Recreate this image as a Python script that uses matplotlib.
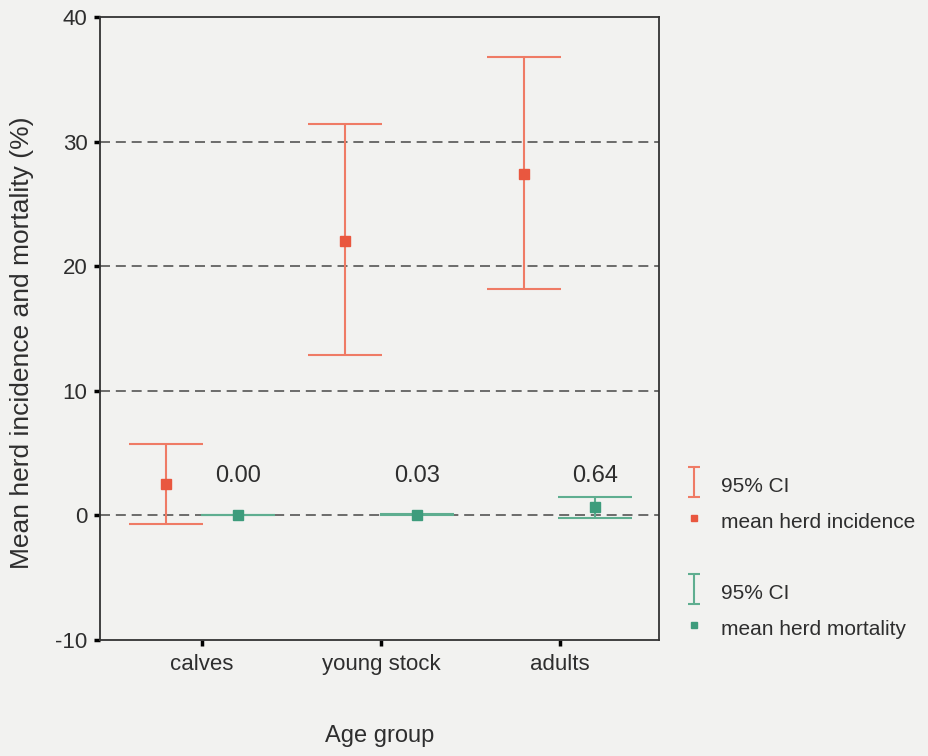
import matplotlib
matplotlib.use("Agg")
import matplotlib.pyplot as plt
from matplotlib.path import Path
from matplotlib.lines import Line2D
import numpy as np

plt.rcParams['font.family'] = ['Liberation Sans', 'DejaVu Sans']
plt.rcParams['axes.unicode_minus'] = False

categories = ["calves", "young stock", "adults"]
inc_mean = [2.5, 22.0, 27.4]
inc_low = [-0.7, 12.9, 18.2]
inc_high = [5.7, 31.4, 36.8]
mort_mean = [0.0, 0.03, 0.64]
mort_low = [0.0, 0.0, -0.2]
mort_high = [0.0, 0.1, 1.48]
mort_labels = ["0.00", "0.03", "0.64"]
yticks = [-10, 0, 10, 20, 30, 40]
grid_levels = [0, 10, 20, 30]

red = '#e9573f'
red_line = '#ef7b65'
green = '#3d9c7c'
green_line = '#5fae90'
bg = '#f2f2f0'
txt = '#2e2e2e'

fig = plt.figure(figsize=(9.29, 7.56), dpi=100, facecolor=bg)
ax = fig.add_axes([100/929, 1-640/756, 559/929, 623/756], facecolor=bg)

x = np.arange(1, len(categories) + 1)
off = 0.2
xi = x - off
xm = x + off

for g in grid_levels:
    ax.axhline(g, color='#555555', lw=1.2, ls=(0, (6, 3.5)), zorder=1)

inc_mean_a = np.array(inc_mean)
ax.errorbar(xi, inc_mean_a,
            yerr=[inc_mean_a - np.array(inc_low), np.array(inc_high) - inc_mean_a],
            fmt='none', ecolor=red_line, elinewidth=1.5, capsize=26.5, capthick=1.5,
            zorder=3)
ax.plot(xi, inc_mean, ls='none', marker='s', ms=6.5, color=red, zorder=4)

mort_mean_a = np.array(mort_mean)
ax.errorbar(xm, mort_mean_a,
            yerr=[mort_mean_a - np.array(mort_low), np.array(mort_high) - mort_mean_a],
            fmt='none', ecolor=green_line, elinewidth=1.5, capsize=26.5, capthick=1.5,
            zorder=3)
ax.plot(xm, mort_mean, ls='none', marker='s', ms=6.5, color=green, zorder=4)

for xv, lab in zip(xm, mort_labels):
    ax.text(xv, 3.16, lab, ha='center', va='center', fontsize=17, color=txt)

ax.set_xlim(0.43, 3.555)
ax.set_ylim(-10, 40)
ax.set_yticks(yticks)
ax.set_xticks(x)
ax.set_xticklabels(categories, fontsize=16, color=txt)
ax.tick_params(axis='y', labelsize=16, labelcolor=txt, length=4, width=2.5, direction='out', pad=5)
ax.tick_params(axis='x', length=4, width=2.5, direction='out', pad=6)
for s in ax.spines.values():
    s.set_color('#333333')
    s.set_linewidth(1.3)

ax.set_ylabel('Mean herd incidence and mortality (%)', fontsize=19, color=txt,
              ha='center', va='center')
ax.yaxis.set_label_coords(-0.14, 0.477)
ax.set_xlabel('Age group', fontsize=17, color=txt, va='center')
ax.xaxis.set_label_coords(0.5, -0.154)

# legend handles: "I" shaped marker for the CI
ibar = Path([(-0.4, -1), (0.4, -1), (0, -1), (0, 1), (-0.4, 1), (0.4, 1)],
            [Path.MOVETO, Path.LINETO, Path.MOVETO, Path.LINETO, Path.MOVETO, Path.LINETO])
h_ci_r = Line2D([], [], ls='none', marker=ibar, ms=22, mfc='none', mec=red_line, mew=1.5)
h_m_r = Line2D([], [], ls='none', marker='s', ms=5, color=red)
h_ci_g = Line2D([], [], ls='none', marker=ibar, ms=22, mfc='none', mec=green_line, mew=1.5)
h_m_g = Line2D([], [], ls='none', marker='s', ms=5, color=green)

common = dict(loc='center left', frameon=False, fontsize=15, handlelength=1.0,
              handleheight=1.5, handletextpad=0.77, labelspacing=0.5, borderpad=0.4,
              labelcolor=txt)
fig.legend([h_ci_r, h_m_r], ['95% CI', 'mean herd incidence'],
           bbox_to_anchor=(665/929, 1-503/756), **common)
fig.legend([h_ci_g, h_m_g], ['95% CI', 'mean herd mortality'],
           bbox_to_anchor=(665/929, 1-610/756), **common)

fig.savefig('out.png', dpi=100, facecolor=bg)
